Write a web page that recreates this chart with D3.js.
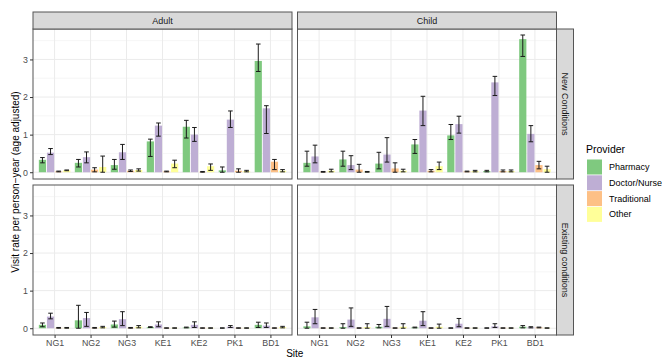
<!DOCTYPE html>
<html>
<head>
<meta charset="utf-8">
<script src="https://cdn.jsdelivr.net/npm/d3@7"></script>
<style>
  body { margin: 0; background: #fff; }
  text { font-family: "Liberation Sans", Arial, sans-serif; }
</style>
</head>
<body>
<svg id="chart" width="662" height="359"></svg>
<script>
var sites = ["NG1", "NG2", "NG3", "KE1", "KE2", "PK1", "BD1"];
var providers = ["Pharmacy", "Doctor/Nurse", "Traditional", "Other"];
var providerColors = ["#7FC97F", "#BEAED4", "#FDC086", "#FFFF99"];
var ages = ["Adult", "Child"];
var conditions = ["New Conditions", "Existing conditions"];
var yTicks = [0, 1, 2, 3];
var yMinor = [0.5, 1.5, 2.5, 3.5];

// one row per site, [rate, lower, upper] for each provider in order
var adultNew = [
    [[0.33, 0.25, 0.39], [0.52, 0.47, 0.63], [0.02, 0.01, 0.03], [0.05, 0.04, 0.06]],
    [[0.25, 0.14, 0.34], [0.40, 0.25, 0.54], [0.07, 0.01, 0.12], [0.14, 0.00, 0.43]],
    [[0.19, 0.08, 0.34], [0.53, 0.34, 0.74], [0.04, 0.02, 0.06], [0.06, 0.03, 0.09]],
    [[0.82, 0.42, 0.88], [1.24, 0.96, 1.31], [0.02, 0.01, 0.03], [0.23, 0.12, 0.32]],
    [[1.21, 0.91, 1.38], [1.00, 0.82, 1.19], [0.01, 0.00, 0.02], [0.16, 0.05, 0.22]],
    [[0.05, 0.00, 0.14], [1.40, 1.19, 1.63], [0.04, 0.00, 0.09], [0.03, 0.01, 0.05]],
    [[2.96, 2.68, 3.41], [1.70, 1.03, 1.77], [0.28, 0.07, 0.34], [0.04, 0.01, 0.07]]
];
var childNew = [
    [[0.25, 0.16, 0.56], [0.42, 0.25, 0.72], [0.01, 0.00, 0.02], [0.04, 0.01, 0.08]],
    [[0.34, 0.16, 0.56], [0.19, 0.07, 0.44], [0.07, 0.00, 0.21], [0.01, 0.00, 0.02]],
    [[0.23, 0.09, 0.53], [0.47, 0.27, 0.92], [0.10, 0.00, 0.25], [0.04, 0.01, 0.08]],
    [[0.74, 0.50, 0.87], [1.64, 1.24, 2.02], [0.04, 0.01, 0.07], [0.16, 0.07, 0.27]],
    [[0.98, 0.87, 1.27], [1.28, 1.04, 1.49], [0.02, 0.01, 0.03], [0.03, 0.01, 0.05]],
    [[0.03, 0.01, 0.05], [2.39, 2.04, 2.55], [0.03, 0.01, 0.06], [0.03, 0.01, 0.06]],
    [[3.54, 3.08, 3.65], [1.02, 0.81, 1.24], [0.19, 0.09, 0.29], [0.08, 0.00, 0.16]]
];
var adultExisting = [
    [[0.09, 0.04, 0.14], [0.31, 0.25, 0.40], [0.01, 0.00, 0.02], [0.01, 0.00, 0.02]],
    [[0.21, 0.00, 0.61], [0.27, 0.05, 0.42], [0.01, 0.00, 0.02], [0.03, 0.01, 0.05]],
    [[0.10, 0.03, 0.19], [0.24, 0.07, 0.44], [0.01, 0.00, 0.02], [0.04, 0.01, 0.07]],
    [[0.03, 0.02, 0.04], [0.10, 0.04, 0.17], [0.01, 0.00, 0.01], [0.01, 0.00, 0.01]],
    [[0.02, 0.01, 0.03], [0.09, 0.02, 0.17], [0.01, 0.00, 0.01], [0.01, 0.00, 0.01]],
    [[0.00, 0.00, 0.01], [0.04, 0.02, 0.07], [0.01, 0.00, 0.01], [0.01, 0.00, 0.01]],
    [[0.09, 0.02, 0.16], [0.07, 0.02, 0.14], [0.01, 0.00, 0.01], [0.03, 0.01, 0.05]]
];
var childExisting = [
    [[0.05, 0.00, 0.16], [0.29, 0.12, 0.50], [0.01, 0.00, 0.01], [0.01, 0.00, 0.01]],
    [[0.03, 0.00, 0.12], [0.23, 0.05, 0.54], [0.01, 0.00, 0.01], [0.03, 0.00, 0.12]],
    [[0.04, 0.01, 0.10], [0.25, 0.05, 0.58], [0.01, 0.00, 0.01], [0.04, 0.00, 0.12]],
    [[0.02, 0.01, 0.03], [0.20, 0.07, 0.44], [0.01, 0.00, 0.01], [0.04, 0.00, 0.11]],
    [[0.00, 0.00, 0.01], [0.12, 0.04, 0.26], [0.01, 0.00, 0.01], [0.01, 0.00, 0.01]],
    [[0.00, 0.00, 0.01], [0.05, 0.02, 0.12], [0.01, 0.00, 0.01], [0.01, 0.00, 0.01]],
    [[0.04, 0.01, 0.07], [0.02, 0.01, 0.04], [0.02, 0.01, 0.03], [0.01, 0.00, 0.01]]
];

var panelData = [[adultNew, childNew], [adultExisting, childExisting]];

var svg = d3.select("#chart");
var panelW = 259, panelH = 150;
var colX = [33, 297.5];
var rowY = [29, 185];
var font = '"Liberation Sans", Arial, sans-serif';

var x = d3.scalePoint().domain(sites).range([0, panelW]).padding(0.6);
var step = x.step();
var dodge = d3.scaleBand().domain(providers).range([-0.45 * step, 0.45 * step]);
var barW = 0.2 * step;
var y = d3.scaleLinear().domain([-0.18, 3.81]).range([panelH, 0]);
var color = d3.scaleOrdinal().domain(providers).range(providerColors);

conditions.forEach(function(cond, r) {
    ages.forEach(function(age, c) {
        var g = svg.append("g")
            .attr("transform", "translate(" + colX[c] + "," + rowY[r] + ")");

        g.append("rect")
            .attr("width", panelW).attr("height", panelH)
            .attr("fill", "#fff");

        g.selectAll(".minor").data(yMinor).enter().append("line")
            .attr("x1", 0).attr("x2", panelW)
            .attr("y1", d => y(d)).attr("y2", d => y(d))
            .attr("stroke", "#F0F0F0").attr("stroke-width", 0.6);

        g.selectAll(".major").data(yTicks).enter().append("line")
            .attr("x1", 0).attr("x2", panelW)
            .attr("y1", d => y(d)).attr("y2", d => y(d))
            .attr("stroke", "#EBEBEB").attr("stroke-width", 1);

        g.selectAll(".vgrid").data(sites).enter().append("line")
            .attr("x1", d => x(d)).attr("x2", d => x(d))
            .attr("y1", 0).attr("y2", panelH)
            .attr("stroke", "#EBEBEB").attr("stroke-width", 1);

        var rows = [];
        panelData[r][c].forEach(function(siteVals, i) {
            siteVals.forEach(function(v, j) {
                rows.push({ site: sites[i], provider: providers[j], rate: v[0], lo: v[1], hi: v[2] });
            });
        });

        var cx = d => x(d.site) + dodge(d.provider) + dodge.bandwidth() / 2;

        g.selectAll(".bar").data(rows).enter().append("rect")
            .attr("x", d => cx(d) - barW / 2)
            .attr("width", barW)
            .attr("y", d => y(d.rate))
            .attr("height", d => y(0) - y(d.rate))
            .attr("fill", d => color(d.provider));

        var eb = g.selectAll(".err").data(rows).enter().append("g")
            .attr("stroke", "#1a1a1a").attr("stroke-width", 1).attr("fill", "none");
        eb.append("line")
            .attr("x1", cx).attr("x2", cx)
            .attr("y1", d => y(d.lo)).attr("y2", d => y(d.hi));
        eb.append("line")
            .attr("x1", d => cx(d) - 2.3).attr("x2", d => cx(d) + 2.3)
            .attr("y1", d => y(d.lo)).attr("y2", d => y(d.lo));
        eb.append("line")
            .attr("x1", d => cx(d) - 2.3).attr("x2", d => cx(d) + 2.3)
            .attr("y1", d => y(d.hi)).attr("y2", d => y(d.hi));

        g.append("rect")
            .attr("width", panelW).attr("height", panelH)
            .attr("fill", "none").attr("stroke", "#555").attr("stroke-width", 1);

        // y axis on the left column
        if (c === 0) {
            var ya = g.append("g").call(d3.axisLeft(y).tickValues(yTicks).tickSize(3).tickPadding(2).tickFormat(d3.format("d")));
            ya.select(".domain").remove();
            ya.selectAll("line").attr("stroke", "#333");
            ya.selectAll("text").attr("fill", "#4D4D4D").style("font-size", "8.8px")
                .style("font-family", font);
        }

        // x axis on the bottom row
        if (r === 1) {
            var xa = g.append("g").attr("transform", "translate(0," + panelH + ")")
                .call(d3.axisBottom(x).tickSize(3).tickPadding(2));
            xa.select(".domain").remove();
            xa.selectAll("line").attr("stroke", "#333");
            xa.selectAll("text").attr("fill", "#4D4D4D").style("font-size", "8.8px")
                .style("font-family", font);
        }

        // column strip
        if (r === 0) {
            g.append("rect")
                .attr("y", -17).attr("width", panelW).attr("height", 17)
                .attr("fill", "#D9D9D9").attr("stroke", "#555").attr("stroke-width", 1);
            g.append("text")
                .attr("x", panelW / 2).attr("y", -8.5)
                .attr("text-anchor", "middle").attr("dominant-baseline", "central")
                .style("font-size", "9px").attr("fill", "#1A1A1A")
                .text(age);
        }

        // row strip
        if (c === 1) {
            g.append("rect")
                .attr("x", panelW).attr("width", 17).attr("height", panelH)
                .attr("fill", "#D9D9D9").attr("stroke", "#555").attr("stroke-width", 1);
            g.append("text")
                .attr("transform", "translate(" + (panelW + 8.5) + "," + (panelH / 2) + ") rotate(90)")
                .attr("text-anchor", "middle").attr("dominant-baseline", "central")
                .style("font-size", "9px").attr("fill", "#1A1A1A")
                .text(cond);
        }
    });
});

// axis titles
svg.append("text")
    .attr("transform", "translate(15," + ((rowY[0] + rowY[1] + panelH) / 2) + ") rotate(-90)")
    .attr("text-anchor", "middle").attr("dominant-baseline", "central")
    .style("font-size", "10px").attr("fill", "#000")
    .text("Visit rate per person\u2212year (age adjusted)");

svg.append("text")
    .attr("x", (colX[0] + colX[1] + panelW) / 2).attr("y", 357)
    .attr("text-anchor", "middle")
    .style("font-size", "10px").attr("fill", "#000")
    .text("Site");

// legend
var legend = svg.append("g").attr("transform", "translate(586,0)");
legend.append("text")
    .attr("x", 0).attr("y", 153)
    .style("font-size", "10.5px").attr("fill", "#000")
    .text("Provider");
var item = legend.selectAll(".key").data(providers).enter().append("g")
    .attr("transform", (d, i) => "translate(1," + (159.5 + i * 15.8) + ")");
item.append("rect")
    .attr("width", 15).attr("height", 15)
    .attr("fill", d => color(d));
item.append("text")
    .attr("x", 22).attr("y", 7.5)
    .attr("dominant-baseline", "central")
    .style("font-size", "9px").attr("fill", "#000")
    .text(d => d);
</script>
</body>
</html>
